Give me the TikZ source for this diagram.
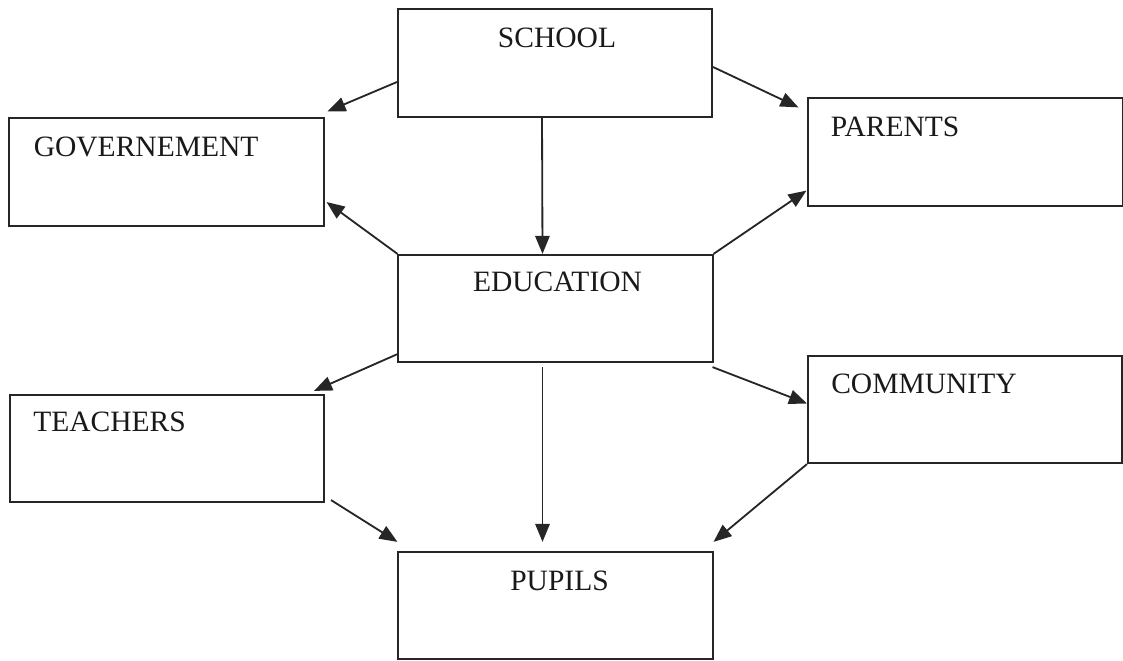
\documentclass[tikz,border=0pt]{standalone}
\usepackage{fontspec}
\setmainfont{Liberation Serif}
\usetikzlibrary{positioning,arrows.meta}

\begin{document}
\begin{tikzpicture}[x=0.025cm,y=-0.025cm,
  box/.style={draw=black!85,line width=1.4pt,minimum width=7.85cm,minimum height=2.68cm,inner sep=0pt},
  lbl/.style={inner sep=0pt,font=\fontsize{21}{25}\selectfont,text=black!90},
  arr/.style={draw=black!85,line width=1.3pt,-{Triangle[length=0.45cm,width=0.36cm]}}]
\useasboundingbox (0,0) rectangle (1123,661);
\node [box] (school) at (555,63) {};
\node [box] (gov) at (166.5,172) {};
\node [box] (parents) at (965.5,152) {};
\node [box] (edu) at (555.5,308.5) {};
\node [box] (teachers) at (167,448.5) {};
\node [box] (community) at (965,409.5) {};
\node [box] (pupils) at (555.5,605.5) {};
% labels
\node [lbl,anchor=north] (schooltxt) at ([shift={(2,19)}]school.north) {SCHOOL};
\node [lbl,anchor=north west] (govtxt) at ([shift={(25,19)}]gov.north west) {GOVERNEMENT};
\node [lbl,anchor=north west] (parentstxt) at ([shift={(23,19)}]parents.north west) {PARENTS};
\node [lbl,anchor=north] (edutxt) at ([shift={(2,18)}]edu.north) {EDUCATION};
\node [lbl,anchor=north west] (teacherstxt) at ([shift={(24,18)}]teachers.north west) {TEACHERS};
\node [lbl,anchor=north west] (communitytxt) at ([shift={(24,19)}]community.north west) {COMMUNITY};
\node [lbl,anchor=north] (pupilstxt) at ([shift={(4,20)}]pupils.north) {PUPILS};
% arrows
\draw [arr] ([shift={(0,19)}]school.west) -- ([shift={(3,-6)}]gov.north east);
\draw [arr] ([shift={(-13,0)}]school.south) -- ([shift={(-13,0)}]edu.north);
\draw [arr] ([shift={(0,4)}]school.east) -- ([shift={(-9,10)}]parents.north west);
\draw [arr] (edu.north west) -- ([shift={(2,30)}]gov.east);
\draw [arr] (edu.north east) -- ([shift={(-1,-16)}]parents.south west);
\draw [arr] ([shift={(0,-9)}]edu.south west) -- ([shift={(-11,-3)}]teachers.north east);
\draw [arr] ([shift={(-1,4)}]edu.south east) -- ([shift={(0,-6)}]community.west);
\draw [arr] ([shift={(-13,4)}]edu.south) -- ([shift={(-13,-9)}]pupils.north);
\draw [arr] ([shift={(6,-3)}]teachers.south east) -- ([shift={(0,-9)}]pupils.north west);
\draw [arr] (community.south west) -- ([shift={(0,-9)}]pupils.north east);
\end{tikzpicture}
\end{document}
